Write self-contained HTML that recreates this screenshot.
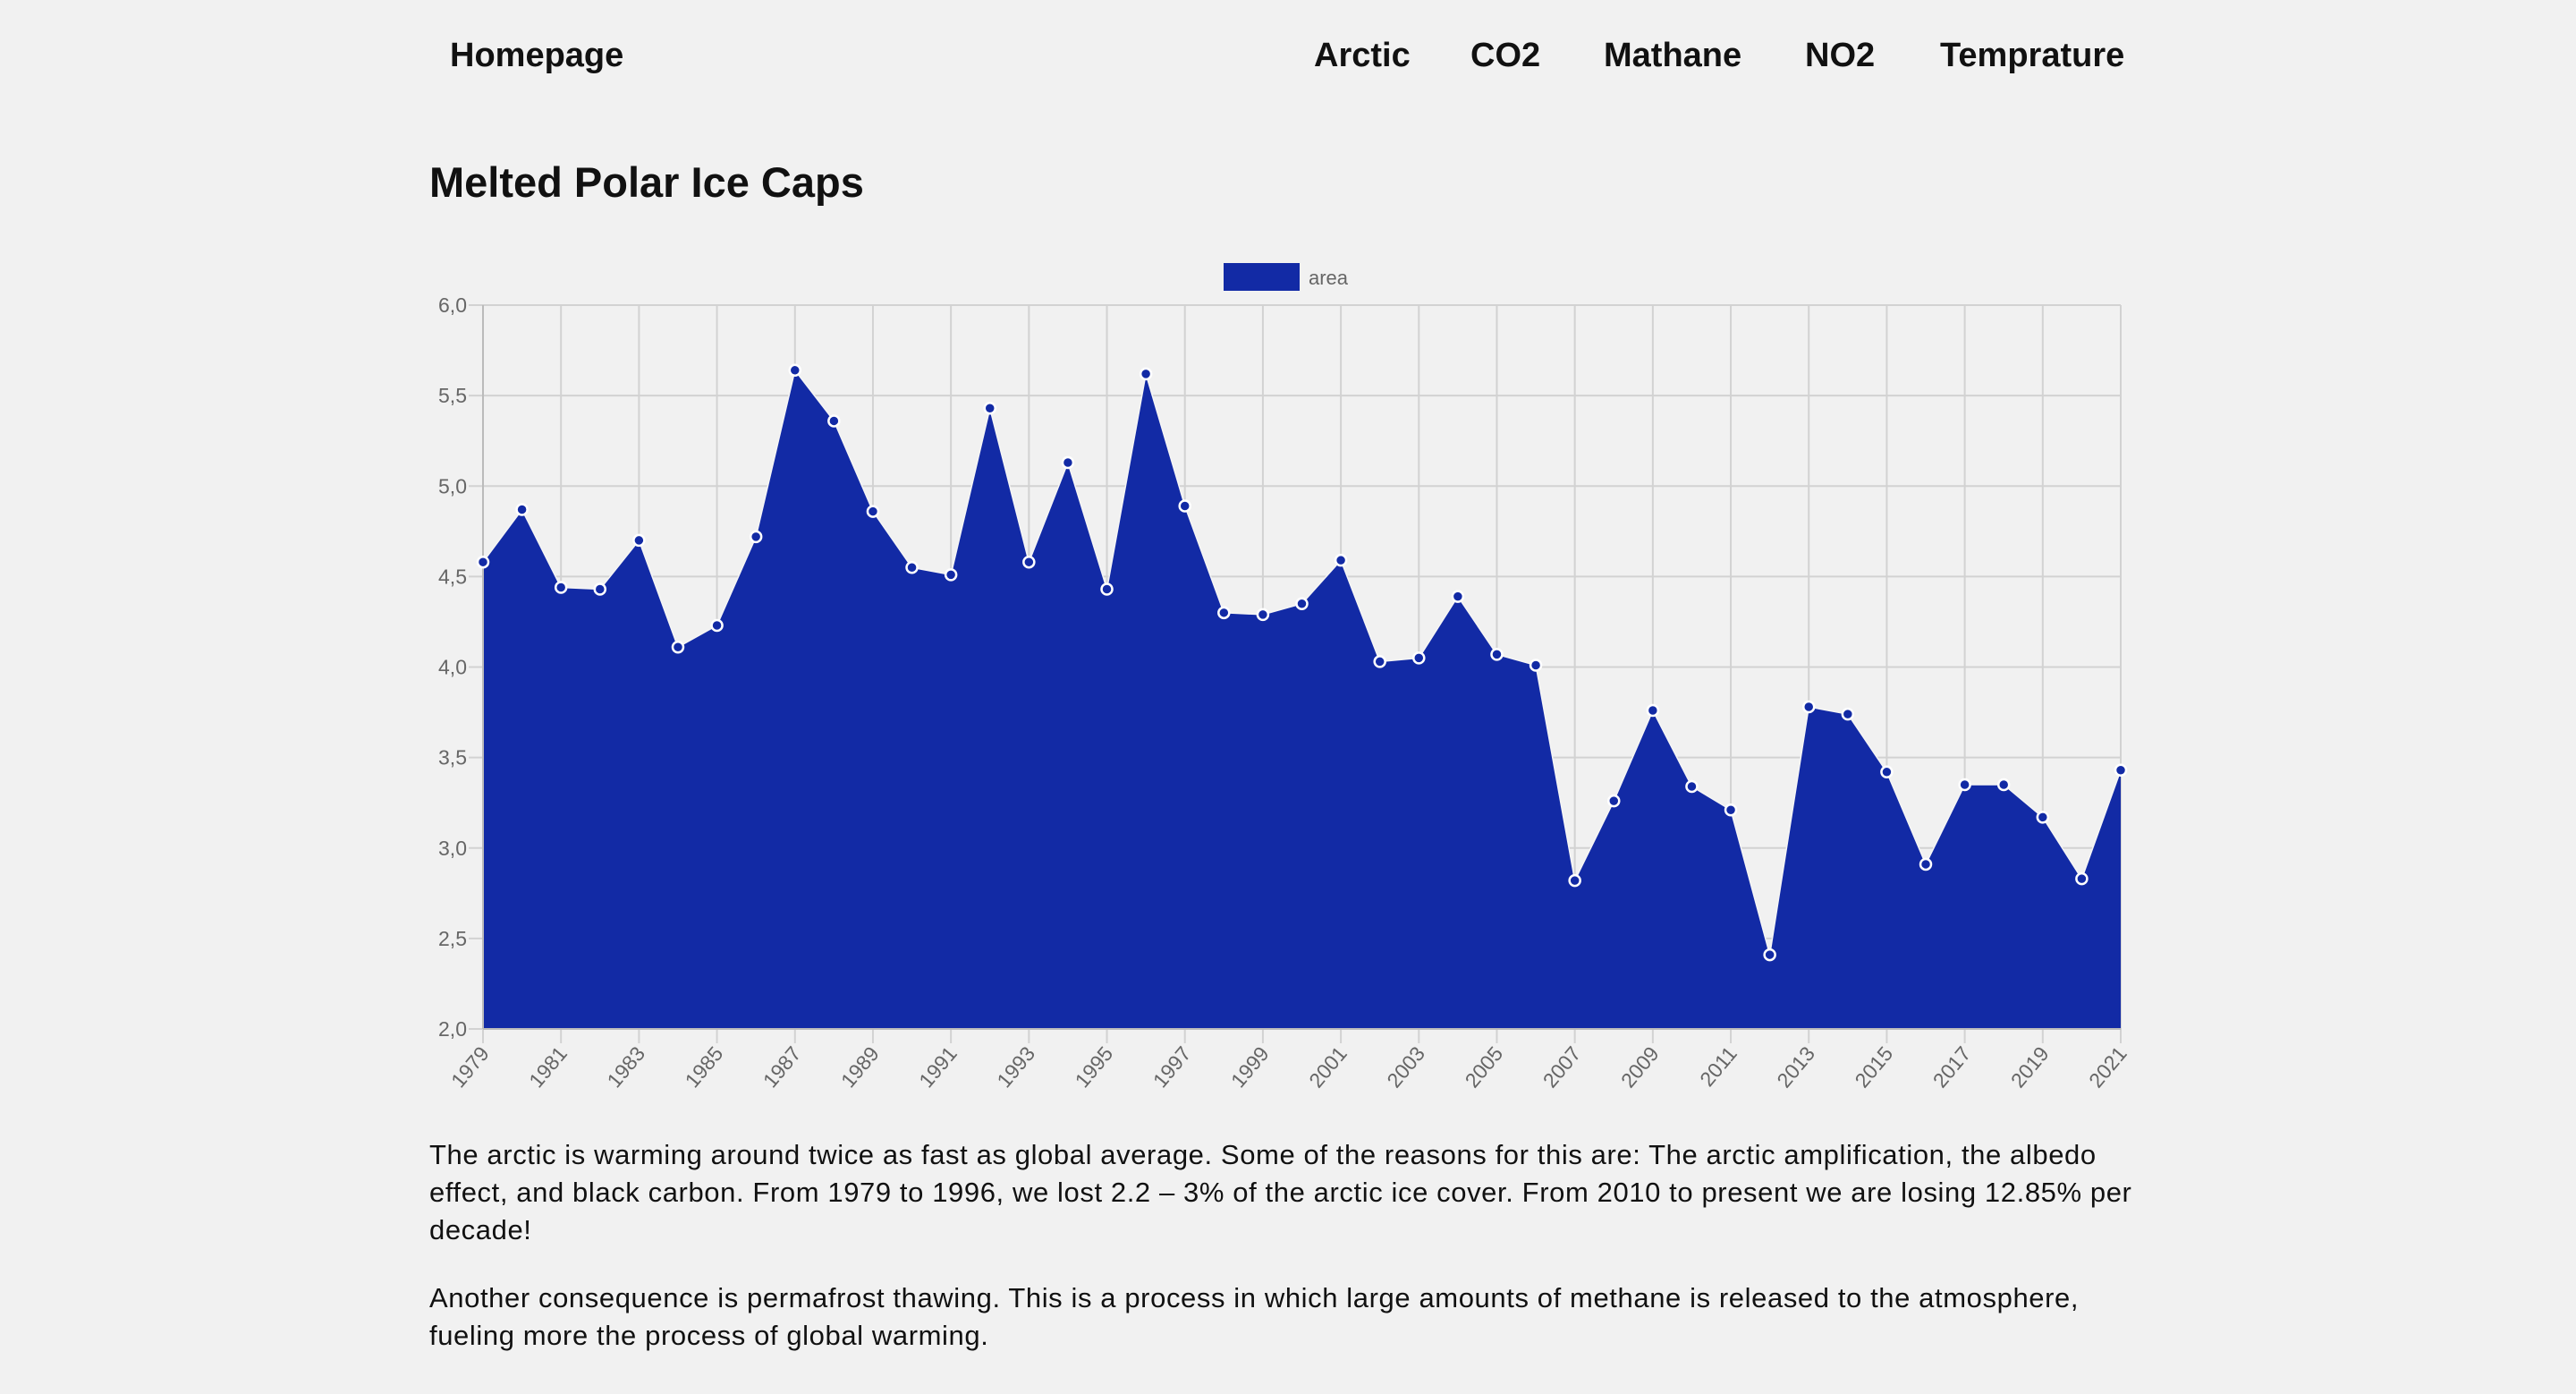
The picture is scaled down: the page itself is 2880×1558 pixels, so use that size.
<!DOCTYPE html>
<html><head><meta charset="utf-8"><style>
body{margin:0;background:#f1f1f1;width:2880px;height:1558px;overflow:hidden;font-family:"Liberation Sans",sans-serif;position:relative;}
.nav{position:absolute;top:41px;font-size:38px;font-weight:bold;color:#111;}
h1{position:absolute;left:480px;top:176px;margin:0;font-size:47px;font-weight:bold;color:#111;}
p{position:absolute;left:480px;width:1915px;margin:0;font-size:31px;letter-spacing:0.6px;line-height:42px;color:#111;}
svg{position:absolute;left:0;top:0;}
</style></head><body>
<svg id="chart" width="2880" height="1260"></svg>
<div class="nav" style="left:503px">Homepage</div>
<div class="nav" style="left:1469px">Arctic</div>
<div class="nav" style="left:1644px">CO2</div>
<div class="nav" style="left:1793px">Mathane</div>
<div class="nav" style="left:2018px">NO2</div>
<div class="nav" style="left:2169px">Temprature</div>
<h1>Melted Polar Ice Caps</h1>
<p style="top:1270px">The arctic is warming around twice as fast as global average. Some of the reasons for this are: The arctic amplification, the albedo effect, and black carbon. From 1979 to 1996, we lost 2.2 – 3% of the arctic ice cover. From 2010 to present we are losing 12.85% per decade!</p>
<p style="top:1430px">Another consequence is permafrost thawing. This is a process in which large amounts of methane is released to the atmosphere, fueling more the process of global warming.</p>
<script>
const years=[1979,1980,1981,1982,1983,1984,1985,1986,1987,1988,1989,1990,1991,1992,1993,1994,1995,1996,1997,1998,1999,2000,2001,2002,2003,2004,2005,2006,2007,2008,2009,2010,2011,2012,2013,2014,2015,2016,2017,2018,2019,2020,2021];
const areaValues=[4.58,4.87,4.44,4.43,4.70,4.11,4.23,4.72,5.64,5.36,4.86,4.55,4.51,5.43,4.58,5.13,4.43,5.62,4.89,4.30,4.29,4.35,4.59,4.03,4.05,4.39,4.07,4.01,2.82,3.26,3.76,3.34,3.21,2.41,3.78,3.74,3.42,2.91,3.35,3.35,3.17,2.83,3.43];
const yTicks=[2.0,2.5,3.0,3.5,4.0,4.5,5.0,5.5,6.0];
const yMin=2,yMax=6,L=540,R=2371,T=341,B=1150;
const svg=document.getElementById('chart'),NS='http://www.w3.org/2000/svg';
const xs=i=>L+(R-L)*i/(years.length-1);
const ys=v=>B-(B-T)*(v-yMin)/(yMax-yMin);
function mk(t,a){const e=document.createElementNS(NS,t);for(const k in a)e.setAttribute(k,a[k]);svg.appendChild(e);return e;}
yTicks.forEach(v=>{
 const g=mk('line',{x1:L-16,x2:R,y1:ys(v),y2:ys(v),stroke:'#d2d2d2','stroke-width':2});
 
 
 const t=mk('text',{x:L-18,y:ys(v)+8,'text-anchor':'end','font-size':23,fill:'#666'});
 t.textContent=v.toFixed(1).replace('.',',');
 
 
});
years.forEach((y,i)=>{
 if(i%2!==0&&i!==years.length-1)return;
 const g=mk('line',{x1:xs(i),x2:xs(i),y1:T,y2:B+16,stroke:'#d2d2d2','stroke-width':2});
 
 
 const tx=xs(i)+8,ty=B+28;
 const t=mk('text',{x:tx,y:ty,'text-anchor':'end','font-size':23,fill:'#666',transform:`rotate(-50 ${tx} ${ty})`});
 t.textContent=y;
 
 
});
let d=`M${xs(0)},${B}`;areaValues.forEach((v,i)=>d+=` L${xs(i)},${ys(v)}`);d+=` L${xs(areaValues.length-1)},${B} Z`;
const a=mk('path',{d:d,fill:'#122aa5'});


let ld='';areaValues.forEach((v,i)=>ld+=(i?' L':'M')+xs(i)+','+ys(v));
const ln=mk('path',{d:ld,fill:'none',stroke:'#f5f5f5','stroke-width':1.5});


mk('line',{x1:L,x2:L,y1:T,y2:B,stroke:'#bbb','stroke-width':2});
mk('line',{x1:L,x2:R,y1:B,y2:B,stroke:'#bbb','stroke-width':2});
areaValues.forEach((v,i)=>{
 const c=mk('circle',{cx:xs(i),cy:ys(v),r:6,fill:'#122aa5',stroke:'#fff','stroke-width':2.5});
 
 
});
const lb=mk('rect',{x:1368,y:294,width:85,height:31,fill:'#122aa5'});


const lt=mk('text',{x:1463,y:318,'font-size':22,fill:'#666'});lt.textContent='area';


</script>
</body></html>
